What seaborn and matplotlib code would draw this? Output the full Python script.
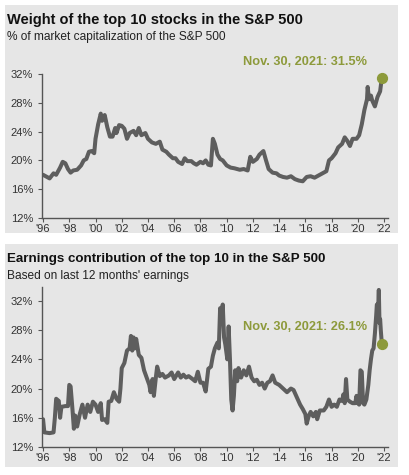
import matplotlib
matplotlib.use("Agg")
import matplotlib.pyplot as plt
import seaborn as sns
import pandas as pd
from matplotlib.patches import Rectangle

# ---------------- data ----------------
top_title = "Weight of the top 10 stocks in the S&P 500"
top_subtitle = "% of market capitalization of the S&P 500"
bot_title = "Earnings contribution of the top 10 in the S&P 500"
bot_subtitle = "Based on last 12 months' earnings"
top_note = "Nov. 30, 2021: 31.5%"
bot_note = "Nov. 30, 2021: 26.1%"

top_dates = [1996.0, 1996.3, 1996.5, 1996.8, 1997.0, 1997.3, 1997.5, 1997.7, 1997.9, 1998.1,
             1998.3, 1998.6, 1998.9, 1999.1, 1999.3, 1999.5, 1999.7, 1999.9, 2000.0, 2000.2,
             2000.4, 2000.5, 2000.7, 2000.9, 2001.1, 2001.3, 2001.5, 2001.6, 2001.8, 2002.0,
             2002.2, 2002.4, 2002.6, 2002.9, 2003.1, 2003.3, 2003.5, 2003.8, 2004.0, 2004.3,
             2004.6, 2004.9, 2005.1, 2005.4, 2005.6, 2005.9, 2006.1, 2006.3, 2006.6, 2006.8,
             2007.0, 2007.3, 2007.5, 2007.7, 2008.0, 2008.2, 2008.4, 2008.6, 2008.8, 2008.95,
             2009.1, 2009.3, 2009.5, 2009.7, 2010.0, 2010.3, 2010.6, 2011.0, 2011.3, 2011.6,
             2011.8, 2012.0, 2012.3, 2012.5, 2012.8, 2013.0, 2013.2, 2013.5, 2013.8, 2014.0,
             2014.3, 2014.6, 2014.9, 2015.2, 2015.5, 2015.8, 2016.1, 2016.4, 2016.7, 2017.0,
             2017.3, 2017.6, 2017.8, 2018.0, 2018.3, 2018.5, 2018.8, 2019.0, 2019.2, 2019.4,
             2019.6, 2019.9, 2020.1, 2020.3, 2020.5, 2020.7, 2020.75, 2020.85, 2021.0, 2021.1,
             2021.3, 2021.5, 2021.7, 2021.83]
top_weight = [18.0, 17.7, 17.5, 18.2, 18.0, 19.0, 19.8, 19.6, 18.8, 18.3,
              18.6, 18.7, 19.3, 20.0, 20.2, 21.2, 21.3, 21.0, 23.0, 25.0,
              26.5, 25.5, 26.3, 24.6, 23.3, 23.3, 24.5, 23.8, 24.9, 24.8,
              24.4, 23.0, 23.8, 24.1, 23.5, 24.5, 23.5, 23.8, 23.0, 22.5,
              22.3, 22.6, 21.5, 21.2, 20.8, 20.3, 20.3, 19.8, 19.5, 20.3,
              19.9, 19.9, 19.6, 19.4, 19.8, 19.6, 20.0, 19.4, 19.3, 23.0,
              22.3, 20.8, 20.2, 20.0, 19.3, 19.0, 18.9, 18.7, 18.8, 18.6,
              20.5, 19.8, 20.2, 20.8, 21.3, 20.0, 18.8, 18.3, 18.2, 17.9,
              17.7, 17.6, 17.8, 17.4, 17.2, 17.1, 17.7, 17.8, 17.6, 17.9,
              18.2, 18.5, 20.0, 20.3, 21.0, 21.8, 22.3, 23.2, 22.7, 22.0,
              23.0, 23.0, 23.5, 25.0, 27.0, 28.5, 30.2, 28.5, 29.0, 28.3,
              27.5, 28.8, 29.6, 31.5]

bot_dates = [1996.0, 1996.1, 1996.5, 1996.8, 1996.9, 1997.0, 1997.2, 1997.3, 1997.4, 1997.7,
             1997.9, 1998.0, 1998.1, 1998.25, 1998.35, 1998.45, 1998.6, 1998.8, 1999.0, 1999.2,
             1999.4, 1999.6, 1999.8, 2000.0, 2000.2, 2000.4, 2000.5, 2000.7, 2000.9, 2001.0,
             2001.2, 2001.4, 2001.6, 2001.8, 2001.9, 2002.0, 2002.2, 2002.4, 2002.6, 2002.7,
             2002.8, 2002.9, 2003.0, 2003.1, 2003.3, 2003.5, 2003.7, 2003.9, 2004.1, 2004.2,
             2004.35, 2004.45, 2004.6, 2004.7, 2004.9, 2005.1, 2005.3, 2005.6, 2005.8, 2006.0,
             2006.3, 2006.5, 2006.7, 2006.9, 2007.1, 2007.4, 2007.6, 2007.8, 2008.0, 2008.2,
             2008.4, 2008.6, 2008.8, 2008.95, 2009.1, 2009.3, 2009.4, 2009.5, 2009.6, 2009.7,
             2009.8, 2009.9, 2010.05, 2010.15, 2010.25, 2010.35, 2010.45, 2010.55, 2010.65, 2010.8,
             2010.9, 2011.1, 2011.3, 2011.5, 2011.7, 2011.9, 2012.1, 2012.3, 2012.5, 2012.7,
             2012.9, 2013.1, 2013.3, 2013.5, 2013.7, 2014.0, 2014.3, 2014.6, 2014.9, 2015.1,
             2015.3, 2015.6, 2015.8, 2016.0, 2016.1, 2016.25, 2016.4, 2016.6, 2016.8, 2016.9,
             2017.1, 2017.4, 2017.6, 2017.8, 2018.0, 2018.2, 2018.4, 2018.6, 2018.8, 2018.9,
             2019.0, 2019.1, 2019.2, 2019.4, 2019.6, 2019.8, 2019.9, 2020.0, 2020.1, 2020.2,
             2020.3, 2020.4, 2020.5, 2020.65, 2020.8, 2020.9, 2021.0, 2021.1, 2021.2, 2021.3,
             2021.4, 2021.45, 2021.55, 2021.6, 2021.65, 2021.7, 2021.75, 2021.83]
bot_earn = [15.8, 14.0, 13.9, 14.0, 16.0, 18.6, 18.3, 16.0, 17.5, 17.6,
            17.6, 20.5, 20.3, 17.0, 14.5, 16.3, 14.8, 16.5, 17.8, 16.0,
            17.8, 16.8, 18.2, 17.8, 16.8, 18.0, 15.7, 15.8, 15.3, 18.2,
            18.3, 19.5, 18.6, 18.2, 20.0, 22.8, 23.5, 25.2, 25.5, 27.2,
            25.2, 27.0, 25.5, 26.8, 24.6, 24.2, 22.5, 21.5, 20.5, 19.5,
            21.3, 19.0, 21.5, 23.0, 21.7, 22.0, 21.5, 21.8, 22.2, 21.3,
            22.2, 21.5, 21.9, 21.5, 21.7, 21.3, 21.0, 22.3, 20.8, 20.8,
            19.6, 22.7, 23.0, 24.5, 25.5, 26.3, 25.5, 31.0, 30.0, 31.5,
            27.0, 26.0, 24.0, 28.5, 24.0, 18.5, 17.0, 19.0, 22.5, 21.0,
            22.8, 21.5, 22.5, 21.8, 23.0, 21.5, 21.0, 21.2, 20.5, 20.8,
            20.0, 20.8, 21.0, 21.8, 20.8, 20.5, 20.0, 19.5, 20.0, 19.8,
            19.0, 17.8, 17.2, 16.5, 15.2, 16.2, 16.8, 16.2, 16.8, 15.8,
            17.0, 17.0, 17.5, 18.5, 17.5, 17.8, 17.5, 18.5, 18.3, 19.2,
            18.0, 21.3, 18.5, 18.2, 18.0, 18.0, 19.0, 18.0, 17.8, 22.5,
            22.3, 18.0, 17.8, 18.5, 20.5, 22.5, 24.0, 25.2, 25.5, 27.5,
            30.0, 31.5, 31.0, 33.5, 29.0, 29.5, 28.0, 26.1]

x_ticks = list(range(1996, 2023, 2))
x_labels = ["'96", "'98", "'00", "'02", "'04", "'06", "'08", "'10", "'12", "'14",
            "'16", "'18", "'20", "'22"]
y_ticks = [12, 16, 20, 24, 28, 32]
y_labels = ["12%", "16%", "20%", "24%", "28%", "32%"]

# ---------------- style ----------------
sns.set_style("ticks")
plt.rcParams["font.family"] = ["Liberation Sans", "DejaVu Sans"]

W, H = 409, 475
fig = plt.figure(figsize=(W / 100, H / 100), dpi=100)
fig.patch.set_facecolor("white")

panel_bg = "#e6e6e6"
line_col = "#5e5e5e"
olive = "#8d9a3b"
axis_col = "#555555"
tick_txt = "#333333"


def px_rect(x0, y0, x1, y1):
    return [x0 / W, 1 - y1 / H, (x1 - x0) / W, (y1 - y0) / H]


for (x0, y0, x1, y1) in [(5, 5, 398, 233), (5, 244, 398, 467)]:
    r = px_rect(x0, y0, x1, y1)
    fig.patches.append(Rectangle((r[0], r[1]), r[2], r[3], transform=fig.transFigure,
                                 facecolor=panel_bg, edgecolor="none", zorder=-10))

ax1 = fig.add_axes(px_rect(42, 74, 388, 218))
ax2 = fig.add_axes(px_rect(42, 287, 388, 447))

df_top = pd.DataFrame({"date": top_dates, "value": top_weight})
df_bot = pd.DataFrame({"date": bot_dates, "value": bot_earn})

for ax, df, ylim in [(ax1, df_top, (12, 32)), (ax2, df_bot, (12, 33.9))]:
    ax.set_facecolor("none")
    ax.patch.set_alpha(0)
    sns.lineplot(data=df, x="date", y="value", ax=ax, color=line_col, linewidth=2.9,
                 estimator=None, sort=False)
    ax.set_xlim(1995.92, 2022.3)
    ax.set_ylim(*ylim)
    ax.set_xticks(x_ticks)
    ax.set_xticklabels(x_labels)
    ax.set_yticks(y_ticks)
    ax.set_yticklabels(y_labels)
    ax.set_xlabel("")
    ax.set_ylabel("")
    for s in ["top", "right"]:
        ax.spines[s].set_visible(False)
    for s in ["left", "bottom"]:
        ax.spines[s].set_color(axis_col)
        ax.spines[s].set_linewidth(1.0)
    ax.tick_params(axis="both", colors=axis_col, labelcolor=tick_txt, labelsize=8,
                   length=3, width=0.8)
    ax.tick_params(axis="x", pad=1.5)
    ax.tick_params(axis="y", pad=3.5)

# end points
ax1.scatter([top_dates[-1]], [top_weight[-1]], s=50, color=olive, zorder=5, clip_on=False)
ax2.scatter([bot_dates[-1]], [bot_earn[-1]], s=50, color=olive, zorder=5, clip_on=False)

ax1.text(2016.0, 33.7, top_note, color=olive, fontsize=9.2, fontweight="bold",
         ha="center", va="center", clip_on=False)
ax2.text(2016.0, 28.4, bot_note, color=olive, fontsize=9.2, fontweight="bold",
         ha="center", va="center", clip_on=False)

# titles
fig.text(7 / W, 1 - 20 / H, top_title, fontsize=10.5, fontweight="bold", color="#111111",
         ha="left", va="center")
fig.text(7 / W, 1 - 37 / H, top_subtitle, fontsize=8.6, color="#222222",
         ha="left", va="center")
fig.text(7 / W, 1 - 259 / H, bot_title, fontsize=9.6, fontweight="bold", color="#111111",
         ha="left", va="center")
fig.text(7 / W, 1 - 276 / H, bot_subtitle, fontsize=8.6, color="#222222",
         ha="left", va="center")

fig.savefig("out.png", dpi=100, facecolor="white")
